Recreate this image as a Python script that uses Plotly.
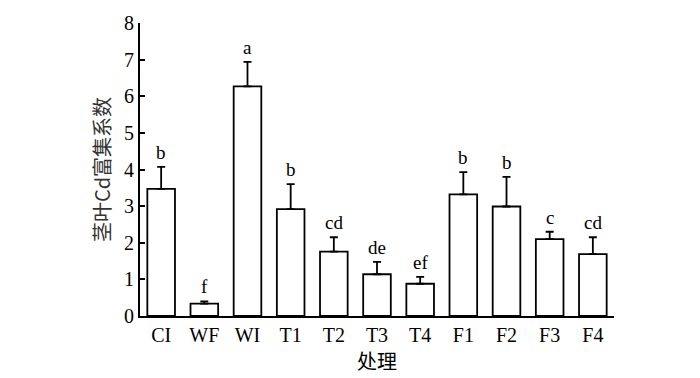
import plotly.graph_objects as go

categories = ["CI", "WF", "WI", "T1", "T2", "T3", "T4", "F1", "F2", "F3", "F4"]
values = [3.47, 0.34, 6.27, 2.92, 1.76, 1.14, 0.88, 3.32, 2.99, 2.10, 1.69]
errors = [0.60, 0.06, 0.67, 0.68, 0.39, 0.34, 0.19, 0.61, 0.81, 0.20, 0.46]
letters = ["b", "f", "a", "b", "cd", "de", "ef", "b", "b", "c", "cd"]
y_ticks = [0, 1, 2, 3, 4, 5, 6, 7, 8]

serif = "Liberation Serif, Times New Roman, serif"
cjk = "Noto Sans CJK SC, sans-serif"

fig = go.Figure()
fig.add_trace(go.Bar(
    x=categories, y=values,
    marker=dict(color="white", line=dict(color="black", width=1.8)),
    error_y=dict(type="data", array=errors, arrayminus=[0] * len(errors), symmetric=False,
                 color="black", thickness=1.8, width=4),
    width=0.64,
))

for c, v, e, l in zip(categories, values, errors, letters):
    fig.add_annotation(x=c, y=v + e, text=l, showarrow=False, yanchor="bottom", yshift=2,
                       font=dict(family=serif, size=19, color="black"))

fig.update_layout(
    width=700, height=378,
    margin=dict(l=140, r=86, t=15, b=62),
    plot_bgcolor="white", paper_bgcolor="white",
    showlegend=False,
    xaxis=dict(range=[-0.49, 10.49], showline=True, linecolor="black", linewidth=1.8,
               ticks="", tickfont=dict(family=serif, size=20, color="black"),
               title=dict(text="处理", font=dict(family=cjk, size=20, color="black"), standoff=3)),
    yaxis=dict(range=[0, 8], tickvals=y_ticks, showline=True, linecolor="black", linewidth=1.8,
               ticks="inside", ticklen=5, tickwidth=1.8, tickcolor="black", showgrid=False,
               zeroline=False, tickfont=dict(family=serif, size=20, color="black"),
               title=dict(text="茎叶Cd富集系数", font=dict(family=cjk, size=20, color="#333"), standoff=8)),
)

fig.write_html("out.html", config={"displayModeBar": False},
               post_script="document.body.style.margin='0';")
